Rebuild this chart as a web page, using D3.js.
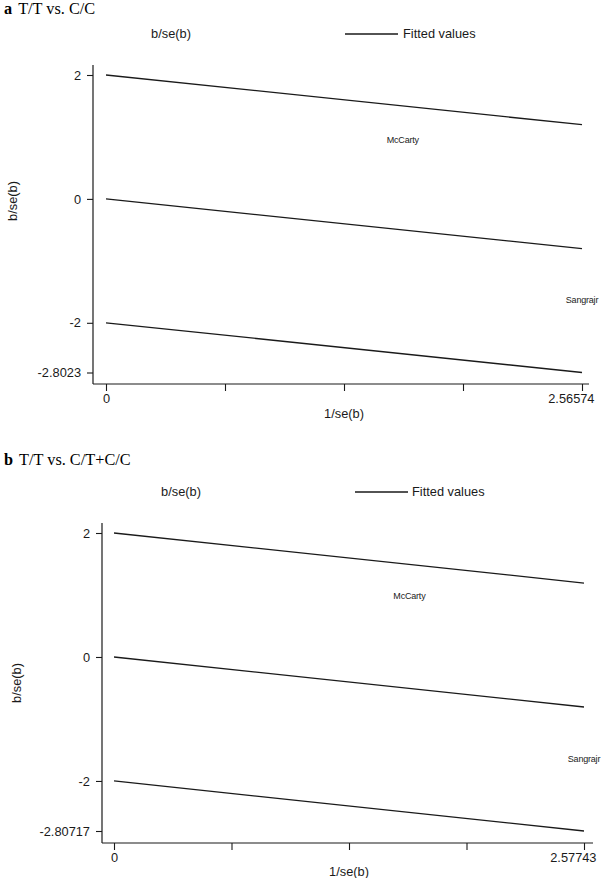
<!DOCTYPE html>
<html><head><meta charset="utf-8">
<script src="https://cdn.jsdelivr.net/npm/d3@7"></script>
<style>body{margin:0;background:#fff} svg{display:block}</style>
</head><body>
<script>
// ---- data ----
const panelLetters = ["a", "b"];
const panelTitles = ["T/T vs. C/C", "T/T vs. C/T+C/C"];
const xMaxValues = [2.56574, 2.57743];
const yMinValues = [-2.8023, -2.80717];
const yTickValues = [2, 0, -2];
const fittedStart = [0, 0];
const fittedEnd = [-0.8023, -0.80717];
const bandOffsets = [2, 0, -2];
const studyNames = ["McCarty", "Sangrajr"];
const studyX = [[1.60, 2.56574], [1.62, 2.57743]];
const studyY = [[0.95, -1.63], [0.98, -1.645]];
const legendLabels = ["b/se(b)", "Fitted values"];
const xAxisTitle = "1/se(b)";
const yAxisTitle = "b/se(b)";

// ---- layout ----
const W = 614, H = 878;
const layouts = [
  {axisX: 93, x0: 106, x1: 582, axisRight: 589, yTop: 65, yBottom: 384, yHi: 75, yLo: 372.5,
   legendY: 34, legendStatX: 171, legendLineX: [345, 398], legendTextX: 403, yTitle: [13, 201], xTitleY: 418},
  {axisX: 102, x0: 114, x1: 584, axisRight: 593, yTop: 523, yBottom: 843, yHi: 533, yLo: 831,
   legendY: 492, legendStatX: 181, legendLineX: [355, 408], legendTextX: 412, yTitle: [17, 683], xTitleY: 876}
];
const titleY = [14, 465];
const ink = "#1a1a1a";
const sans = "'Liberation Sans', Arial, sans-serif";
const serif = "'Liberation Serif', 'Times New Roman', serif";
const hyphenNum = v => String(v).replace("\u2212", "-");

const svg = d3.select("body").append("svg").attr("width", W).attr("height", H);

panelLetters.forEach((letter, i) => {
  const L = layouts[i];
  const g = svg.append("g");

  // title
  const t = g.append("text").attr("x", 4).attr("y", titleY[i])
    .attr("font-family", serif).attr("font-size", 16.3).attr("fill", "#000");
  t.append("tspan").attr("font-weight", "bold").text(letter);
  t.append("tspan").attr("dx", 6).text(panelTitles[i]);

  const x = d3.scaleLinear().domain([0, xMaxValues[i]]).range([L.x0, L.x1]);
  const y = d3.scaleLinear().domain([yMinValues[i], 2]).range([L.yLo, L.yHi]);

  // axis lines
  g.append("line").attr("x1", L.axisX).attr("x2", L.axisX).attr("y1", L.yTop).attr("y2", L.yBottom)
    .attr("stroke", ink).attr("stroke-width", 1.2);
  g.append("line").attr("x1", L.axisX).attr("x2", L.axisRight).attr("y1", L.yBottom).attr("y2", L.yBottom)
    .attr("stroke", ink).attr("stroke-width", 1.2);

  // y axis
  const yTicks = yTickValues.concat([yMinValues[i]]);
  const yAx = g.append("g").attr("transform", `translate(${L.axisX},0)`)
    .call(d3.axisLeft(y).tickValues(yTicks).tickSize(6).tickPadding(6)
      .tickFormat(d => hyphenNum(d)));
  yAx.select(".domain").remove();
  yAx.selectAll("line").attr("stroke", ink).attr("stroke-width", 1.1);
  yAx.selectAll("text").attr("font-family", sans).attr("font-size", 12.8).attr("fill", ink);

  // x axis
  const xm = xMaxValues[i];
  const xTicks = [0, xm / 4, xm / 2, 3 * xm / 4, xm];
  const xAx = g.append("g").attr("transform", `translate(0,${L.yBottom})`)
    .call(d3.axisBottom(x).tickValues(xTicks).tickSize(7).tickPadding(3)
      .tickFormat(d => d === 0 ? "0" : (d === xm ? String(xm) : "")));
  xAx.select(".domain").remove();
  xAx.selectAll("line").attr("stroke", ink).attr("stroke-width", 1.1);
  xAx.selectAll("text").attr("font-family", sans).attr("font-size", 12.8).attr("fill", ink);
  xAx.selectAll(".tick").filter(d => d === xm).select("text").attr("text-anchor", "end").attr("dx", 12);

  // axis titles
  g.append("text").attr("x", (L.x0 + L.x1) / 2).attr("y", L.xTitleY).attr("text-anchor", "middle")
    .attr("font-family", sans).attr("font-size", 12.8).attr("fill", ink).text(xAxisTitle);
  g.append("text").attr("transform", `translate(${L.yTitle[0] + 4},${L.yTitle[1]}) rotate(-90)`)
    .attr("text-anchor", "middle").attr("font-family", sans).attr("font-size", 12.8).attr("fill", ink).text(yAxisTitle);

  // legend
  g.append("text").attr("x", L.legendStatX).attr("y", L.legendY + 4).attr("text-anchor", "middle")
    .attr("font-family", sans).attr("font-size", 12.8).attr("fill", ink).text(legendLabels[0]);
  g.append("line").attr("x1", L.legendLineX[0]).attr("x2", L.legendLineX[1]).attr("y1", L.legendY).attr("y2", L.legendY)
    .attr("stroke", ink).attr("stroke-width", 1.4);
  g.append("text").attr("x", L.legendTextX).attr("y", L.legendY + 4)
    .attr("font-family", sans).attr("font-size", 12.8).attr("fill", ink).text(legendLabels[1]);

  // fitted line and bands
  const line = d3.line().x(d => x(d[0])).y(d => y(d[1]));
  bandOffsets.forEach(off => {
    g.append("path").datum([[0, fittedStart[i] + off], [xm, fittedEnd[i] + off]])
      .attr("d", line).attr("fill", "none").attr("stroke", ink).attr("stroke-width", 1.3);
  });

  // study labels (markers invisible, label centred on point)
  studyNames.forEach((name, j) => {
    g.append("text").attr("x", x(studyX[i][j])).attr("y", y(studyY[i][j]) + 3)
      .attr("text-anchor", "middle").attr("font-family", sans).attr("font-size", 9)
      .attr("letter-spacing", -0.2).attr("fill", "#222").text(name);
  });
});
</script>
</body></html>
